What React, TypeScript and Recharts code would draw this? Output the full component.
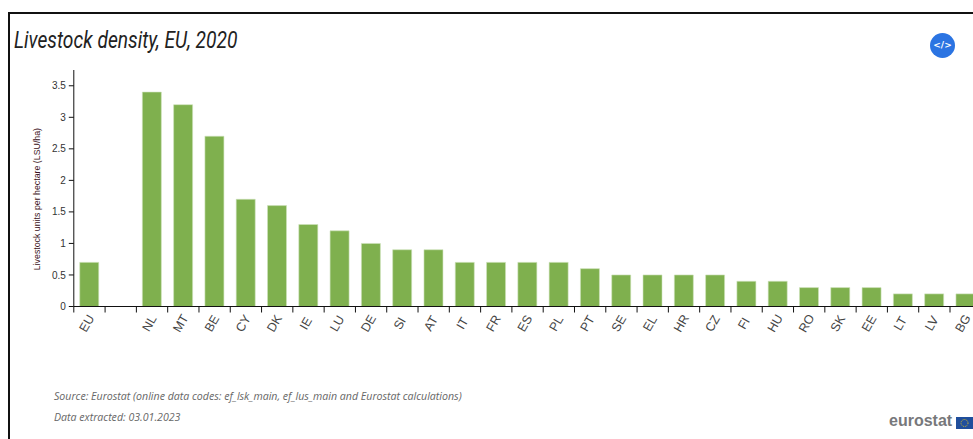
import { Bar, BarChart, XAxis, YAxis } from "recharts";

const countries = ["EU", " ", "NL", "MT", "BE", "CY", "DK", "IE", "LU", "DE", "SI", "AT", "IT", "FR", "ES", "PL", "PT", "SE", "EL", "HR", "CZ", "FI", "HU", "RO", "SK", "EE", "LT", "LV", "BG"];
const density = [0.7, null, 3.4, 3.2, 2.7, 1.7, 1.6, 1.3, 1.2, 1.0, 0.9, 0.9, 0.7, 0.7, 0.7, 0.7, 0.6, 0.5, 0.5, 0.5, 0.5, 0.4, 0.4, 0.3, 0.3, 0.3, 0.2, 0.2, 0.2];
const yTicks = [0, 0.5, 1, 1.5, 2, 2.5, 3, 3.5];

const chartData = countries.map((name, i) => ({ name, value: density[i] }));

const PLOT_WIDTH = 907.5;
const halfBand = PLOT_WIDTH / countries.length / 2;

// ticks sit between the bars, the labels under them
const CountryTick = (props: any) => {
  const { x, y, payload } = props;
  const labelX = x - 2.5;
  return (
    <g>
      <line x1={x - halfBand} x2={x - halfBand} y1={y - 8} y2={y - 2} stroke="#111" strokeWidth={1} />
      <text
        x={labelX}
        y={y + 13}
        textAnchor="middle"
        fontSize={12.5}
        fontFamily="Liberation Sans"
        fill="#444"
        transform={`rotate(-60 ${labelX} ${y + 9})`}
      >
        {payload.value}
      </text>
    </g>
  );
};

const App = () => {
  return (
    <div style={{ position: "fixed", left: 0, top: 0, width: 973, height: 439, overflow: "hidden", background: "#fff" }}>
      <div style={{ position: "absolute", left: 8, top: 12, width: 1000, height: 500, borderLeft: "2px solid #111", borderTop: "2px solid #111" }} />
      <div
        style={{
          position: "absolute",
          left: 14,
          top: 27,
          fontFamily: "Roboto",
          fontStyle: "italic",
          fontSize: 23,
          color: "#222",
          whiteSpace: "nowrap",
          transform: "scaleX(0.835)",
          transformOrigin: "left top",
        }}
      >
        Livestock density, EU, 2020
      </div>
      <div style={{ position: "absolute", left: 930, top: 33, width: 25, height: 25, borderRadius: "50%", background: "#2b74e2", color: "#fff", fontFamily: "DejaVu Sans", fontWeight: 700, fontSize: 9, lineHeight: "25px", textAlign: "center" }}>
        {"</>"}
      </div>
      <div style={{ position: "absolute", left: 0, top: 0 }}>
        <BarChart width={1000} height={345} data={chartData} margin={{ top: 70, right: 18.7, bottom: 0, left: 0 }} barCategoryGap="19%">
          <XAxis dataKey="name" interval={0} height={38.5} tickLine={false} axisLine={{ stroke: "#111", strokeWidth: 1 }} tick={<CountryTick />} />
          <YAxis
            width={73.8}
            domain={[0, 3.75]}
            ticks={yTicks}
            tickSize={5}
            tickMargin={3}
            tick={{ fontSize: 10, fontFamily: "Liberation Sans", fill: "#333" }}
            tickLine={{ stroke: "#111" }}
            axisLine={{ stroke: "#111" }}
            label={{
              value: "Livestock units per hectare (LSU/ha)",
              angle: -90,
              position: "insideLeft",
              dx: 32,
              dy: 82,
              style: { fontSize: 8.8, fontFamily: "Liberation Sans", fill: "#3a1020" },
            }}
          />
          <Bar dataKey="value" fill="#7fb04e" stroke="#cfe2bc" strokeWidth={0.6} isAnimationActive={false} />
        </BarChart>
      </div>
      <div style={{ position: "absolute", left: 54, top: 389, fontFamily: "Open Sans", fontStyle: "italic", fontSize: 10.6, color: "#666", whiteSpace: "nowrap" }}>
        Source: Eurostat (online data codes: ef_lsk_main, ef_lus_main and Eurostat calculations)
      </div>
      <div style={{ position: "absolute", left: 54, top: 410, fontFamily: "Open Sans", fontStyle: "italic", fontSize: 10.6, color: "#666", whiteSpace: "nowrap" }}>
        Data extracted: 03.01.2023
      </div>
      <div style={{ position: "absolute", left: 889, top: 412, fontFamily: "Liberation Sans", fontWeight: 700, fontSize: 16, color: "#77787b", whiteSpace: "nowrap" }}>
        eurostat
      </div>
      <svg style={{ position: "absolute", left: 956, top: 417 }} width={17} height={12}>
        <rect width={17} height={12} fill="#1f4e9c" />
        <circle cx={8.5} cy={6} r={3.5} fill="none" stroke="#e0c020" strokeWidth={1} strokeDasharray="1 1" />
      </svg>
    </div>
  );
};

export default App;
